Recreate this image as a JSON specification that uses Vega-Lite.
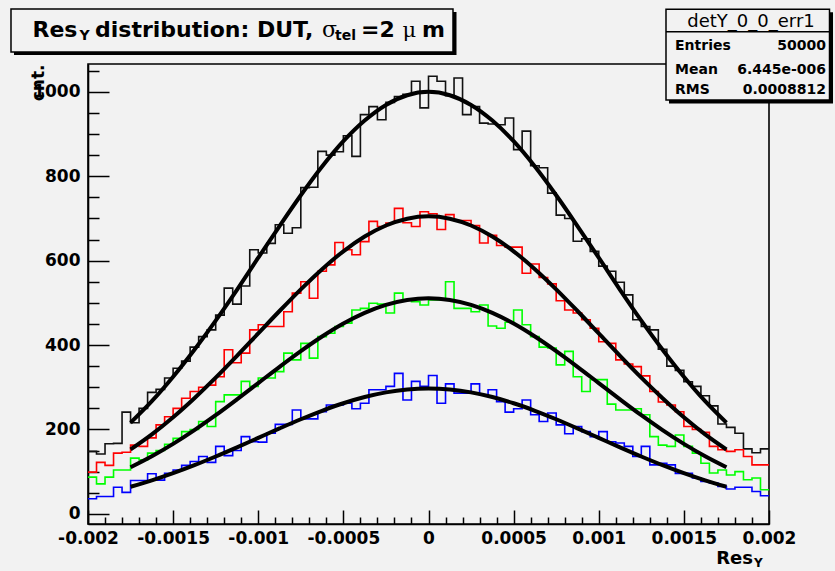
{
  "$schema": "https://vega.github.io/schema/vega-lite/v6.json",
  "width": 681,
  "height": 460,
  "autosize": "none",
  "padding": {"left": 88, "top": 64, "right": 66, "bottom": 47},
  "background": "#f2f2f2",
  "config": {"view": {"stroke": "#000000", "strokeWidth": 1.6}, "font": "DejaVu Sans"},
  "datasets": {
    "hist": [
      {"x": -0.002, "A": 148, "B": 99, "C": 87, "D": 36},
      {"x": -0.00195, "A": 142, "B": 122, "C": 71, "D": 41},
      {"x": -0.0019, "A": 166, "B": 115, "C": 87, "D": 41},
      {"x": -0.00185, "A": 167, "B": 144, "C": 104, "D": 63},
      {"x": -0.0018, "A": 241, "B": 146, "C": 104, "D": 51},
      {"x": -0.00175, "A": 216, "B": 163, "C": 132, "D": 79},
      {"x": -0.0017, "A": 250, "B": 160, "C": 128, "D": 79},
      {"x": -0.00165, "A": 288, "B": 180, "C": 144, "D": 95},
      {"x": -0.0016, "A": 295, "B": 211, "C": 150, "D": 80},
      {"x": -0.00155, "A": 322, "B": 230, "C": 165, "D": 96},
      {"x": -0.0015, "A": 345, "B": 250, "C": 179, "D": 104},
      {"x": -0.00145, "A": 362, "B": 274, "C": 195, "D": 115},
      {"x": -0.0014, "A": 395, "B": 290, "C": 200, "D": 124},
      {"x": -0.00135, "A": 420, "B": 300, "C": 219, "D": 136},
      {"x": -0.0013, "A": 436, "B": 305, "C": 207, "D": 122},
      {"x": -0.00125, "A": 471, "B": 325, "C": 266, "D": 160},
      {"x": -0.0012, "A": 535, "B": 389, "C": 282, "D": 138},
      {"x": -0.00115, "A": 497, "B": 358, "C": 282, "D": 150},
      {"x": -0.0011, "A": 540, "B": 381, "C": 314, "D": 183},
      {"x": -0.00105, "A": 626, "B": 436, "C": 302, "D": 171},
      {"x": -0.001, "A": 618, "B": 448, "C": 322, "D": 170},
      {"x": -0.00095, "A": 641, "B": 444, "C": 322, "D": 191},
      {"x": -0.0009, "A": 685, "B": 444, "C": 337, "D": 212},
      {"x": -0.00085, "A": 665, "B": 479, "C": 381, "D": 212},
      {"x": -0.0008, "A": 678, "B": 523, "C": 365, "D": 246},
      {"x": -0.00075, "A": 773, "B": 550, "C": 404, "D": 225},
      {"x": -0.0007, "A": 774, "B": 511, "C": 369, "D": 225},
      {"x": -0.00065, "A": 859, "B": 575, "C": 420, "D": 242},
      {"x": -0.0006, "A": 850, "B": 590, "C": 428, "D": 258},
      {"x": -0.00055, "A": 858, "B": 643, "C": 444, "D": 258},
      {"x": -0.0005, "A": 896, "B": 626, "C": 452, "D": 262},
      {"x": -0.00045, "A": 847, "B": 614, "C": 483, "D": 249},
      {"x": -0.0004, "A": 946, "B": 645, "C": 487, "D": 262},
      {"x": -0.00035, "A": 965, "B": 693, "C": 499, "D": 294},
      {"x": -0.0003, "A": 934, "B": 681, "C": 497, "D": 294},
      {"x": -0.00025, "A": 975, "B": 689, "C": 476, "D": 302},
      {"x": -0.0002, "A": 989, "B": 724, "C": 523, "D": 333},
      {"x": -0.00015, "A": 994, "B": 690, "C": 507, "D": 270},
      {"x": -0.0001, "A": 1025, "B": 681, "C": 503, "D": 314},
      {"x": -0.00005, "A": 962, "B": 716, "C": 495, "D": 302},
      {"x": 0, "A": 1037, "B": 711, "C": 507, "D": 328},
      {"x": 0.00005, "A": 1025, "B": 674, "C": 507, "D": 262},
      {"x": 0.0001, "A": 991, "B": 709, "C": 550, "D": 308},
      {"x": 0.00015, "A": 1033, "B": 695, "C": 487, "D": 286},
      {"x": 0.0002, "A": 946, "B": 695, "C": 487, "D": 286},
      {"x": 0.00025, "A": 965, "B": 683, "C": 479, "D": 308},
      {"x": 0.0003, "A": 926, "B": 642, "C": 495, "D": 282},
      {"x": 0.00035, "A": 924, "B": 660, "C": 445, "D": 294},
      {"x": 0.0004, "A": 922, "B": 636, "C": 440, "D": 266},
      {"x": 0.00045, "A": 938, "B": 632, "C": 454, "D": 241},
      {"x": 0.0005, "A": 863, "B": 632, "C": 483, "D": 249},
      {"x": 0.00055, "A": 907, "B": 570, "C": 448, "D": 270},
      {"x": 0.0006, "A": 825, "B": 592, "C": 420, "D": 235},
      {"x": 0.00065, "A": 820, "B": 560, "C": 395, "D": 219},
      {"x": 0.0007, "A": 760, "B": 545, "C": 393, "D": 239},
      {"x": 0.00075, "A": 708, "B": 505, "C": 353, "D": 211},
      {"x": 0.0008, "A": 700, "B": 483, "C": 385, "D": 190},
      {"x": 0.00085, "A": 646, "B": 476, "C": 325, "D": 207},
      {"x": 0.0009, "A": 652, "B": 460, "C": 290, "D": 195},
      {"x": 0.00095, "A": 622, "B": 440, "C": 318, "D": 183},
      {"x": 0.001, "A": 587, "B": 408, "C": 318, "D": 195},
      {"x": 0.00105, "A": 575, "B": 404, "C": 260, "D": 171},
      {"x": 0.0011, "A": 549, "B": 365, "C": 246, "D": 168},
      {"x": 0.00115, "A": 519, "B": 355, "C": 246, "D": 160},
      {"x": 0.0012, "A": 460, "B": 349, "C": 249, "D": 136},
      {"x": 0.00125, "A": 444, "B": 327, "C": 235, "D": 160},
      {"x": 0.0013, "A": 436, "B": 290, "C": 183, "D": 116},
      {"x": 0.00135, "A": 390, "B": 265, "C": 163, "D": 120},
      {"x": 0.0014, "A": 350, "B": 258, "C": 160, "D": 116},
      {"x": 0.00145, "A": 340, "B": 242, "C": 187, "D": 96},
      {"x": 0.0015, "A": 313, "B": 207, "C": 160, "D": 96},
      {"x": 0.00155, "A": 302, "B": 200, "C": 144, "D": 85},
      {"x": 0.0016, "A": 280, "B": 193, "C": 120, "D": 77},
      {"x": 0.00165, "A": 256, "B": 160, "C": 97, "D": 73},
      {"x": 0.0017, "A": 213, "B": 152, "C": 104, "D": 65},
      {"x": 0.00175, "A": 205, "B": 148, "C": 92, "D": 59},
      {"x": 0.0018, "A": 191, "B": 152, "C": 100, "D": 63},
      {"x": 0.00185, "A": 154, "B": 136, "C": 81, "D": 63},
      {"x": 0.0019, "A": 145, "B": 116, "C": 85, "D": 53},
      {"x": 0.00195, "A": 154, "B": 116, "C": 57, "D": 43},
      {"x": 0.002, "A": 154, "B": 116, "C": 57, "D": 43}
    ],
    "fit": [
      {"x": -0.00175, "A": 216, "B": 152.5, "C": 110.5, "D": 64.2},
      {"x": -0.001625, "A": 267, "B": 188.3, "C": 136.5, "D": 79.3},
      {"x": -0.0015, "A": 325, "B": 228.9, "C": 165.9, "D": 96.4},
      {"x": -0.001375, "A": 389, "B": 274, "C": 198.6, "D": 115.4},
      {"x": -0.00125, "A": 458, "B": 322.7, "C": 233.9, "D": 136},
      {"x": -0.001125, "A": 531, "B": 374.4, "C": 271.4, "D": 157.7},
      {"x": -0.001, "A": 607, "B": 427.6, "C": 309.9, "D": 180.1},
      {"x": -0.000875, "A": 682, "B": 480.7, "C": 348.5, "D": 202.5},
      {"x": -0.00075, "A": 755, "B": 532.1, "C": 385.7, "D": 224.2},
      {"x": -0.000625, "A": 823, "B": 579.9, "C": 420.3, "D": 244.3},
      {"x": -0.0005, "A": 883, "B": 622.2, "C": 451, "D": 262.1},
      {"x": -0.000375, "A": 932, "B": 657.1, "C": 476.3, "D": 276.8},
      {"x": -0.00025, "A": 969, "B": 683.3, "C": 495.3, "D": 287.9},
      {"x": -0.000125, "A": 992, "B": 699.5, "C": 507, "D": 294.7},
      {"x": 0, "A": 1000, "B": 705, "C": 511, "D": 297},
      {"x": 0.000125, "A": 992, "B": 699.5, "C": 507, "D": 294.7},
      {"x": 0.00025, "A": 969, "B": 683.3, "C": 495.3, "D": 287.9},
      {"x": 0.000375, "A": 932, "B": 657.1, "C": 476.3, "D": 276.8},
      {"x": 0.0005, "A": 883, "B": 622.2, "C": 451, "D": 262.1},
      {"x": 0.000625, "A": 823, "B": 579.9, "C": 420.3, "D": 244.3},
      {"x": 0.00075, "A": 755, "B": 532.1, "C": 385.7, "D": 224.2},
      {"x": 0.000875, "A": 682, "B": 480.7, "C": 348.5, "D": 202.5},
      {"x": 0.001, "A": 607, "B": 427.6, "C": 309.9, "D": 180.1},
      {"x": 0.001125, "A": 531, "B": 374.4, "C": 271.4, "D": 157.7},
      {"x": 0.00125, "A": 458, "B": 322.7, "C": 233.9, "D": 136},
      {"x": 0.001375, "A": 389, "B": 274, "C": 198.6, "D": 115.4},
      {"x": 0.0015, "A": 325, "B": 228.9, "C": 165.9, "D": 96.4},
      {"x": 0.001625, "A": 267, "B": 188.3, "C": 136.5, "D": 79.3},
      {"x": 0.00175, "A": 216, "B": 152.5, "C": 110.5, "D": 64.2}
    ]
  },
  "layer": [
    {
      "data": {"name": "hist"},
      "transform": [{"fold": ["A", "B", "C", "D"], "as": ["s", "n"]}],
      "mark": {"type": "line", "interpolate": "step-after", "strokeWidth": 1.6},
      "encoding": {
        "x": {"field": "x", "type": "quantitative", "scale": {"domain": [-0.002, 0.002], "nice": false, "zero": false},
          "axis": {"orient": "bottom", "values": [-0.002, -0.0015, -0.001, -0.0005, 0, 0.0005, 0.001, 0.0015, 0.002], "labelExpr": "'' + datum.value", "tickSize": -14, "tickWidth": 1.5, "tickColor": "#000000", "domainColor": "#000000", "domainWidth": 1.6, "grid": false, "title": null, "labelFont": "DejaVu Sans", "labelFontWeight": "bold", "labelFontSize": 17, "labelColor": "#000000", "labelPadding": 20, "labelOverlap": false, "labelFlush": false, "labelBound": false}},
        "y": {"field": "n", "type": "quantitative", "scale": {"domain": [-24, 1066], "nice": false, "zero": false},
          "axis": {"orient": "left", "values": [0, 200, 400, 600, 800, 1000], "labelExpr": "'' + datum.value", "tickSize": -21, "tickWidth": 1.5, "tickColor": "#000000", "domainColor": "#000000", "domainWidth": 1.6, "grid": false, "labelFont": "DejaVu Sans", "labelFontWeight": "bold", "labelFontSize": 17, "labelColor": "#000000", "labelPadding": 29, "labelOverlap": false, "labelFlush": false, "labelBound": false,
            "title": "cnt.", "titleFont": "DejaVu Sans", "titleFontWeight": "bold", "titleFontSize": 17, "titleColor": "#000000", "titleAngle": -90, "titleAlign": "right", "titleBaseline": "alphabetic", "titleX": -45, "titleY": 0}},
        "color": {"field": "s", "type": "nominal", "scale": {"domain": ["A", "B", "C", "D"], "range": ["#111111", "#ff0000", "#00ff00", "#0000ff"]}, "legend": null}
      }
    },
    {
      "data": {"name": "fit"},
      "transform": [{"fold": ["A", "B", "C", "D"], "as": ["s", "f"]}],
      "mark": {"type": "line", "interpolate": "monotone", "strokeWidth": 4, "color": "#000000"},
      "encoding": {
        "x": {"field": "x", "type": "quantitative", "scale": {"domain": [-0.002, 0.002], "nice": false, "zero": false},
          "axis": {"orient": "bottom", "values": [-0.0019, -0.0018, -0.0017, -0.0016, -0.0014, -0.0013, -0.0012, -0.0011, -0.0009, -0.0008, -0.0007, -0.0006, -0.0004, -0.0003, -0.0002, -0.0001, 0.0001, 0.0002, 0.0003, 0.0004, 0.0006, 0.0007, 0.0008, 0.0009, 0.0011, 0.0012, 0.0013, 0.0014, 0.0016, 0.0017, 0.0018, 0.0019], "tickSize": -7, "tickWidth": 1.5, "tickColor": "#000000", "labels": false, "domain": false, "grid": false, "title": null}},
        "y": {"field": "f", "type": "quantitative", "scale": {"domain": [-24, 1066], "nice": false, "zero": false},
          "axis": {"orient": "left", "values": [50, 100, 150, 250, 300, 350, 450, 500, 550, 650, 700, 750, 850, 900, 950, 1050], "tickSize": -11, "tickWidth": 1.5, "tickColor": "#000000", "labels": false, "domain": false, "grid": false, "title": null}},
        "detail": {"field": "s", "type": "nominal"}
      }
    },
    {
      "data": {"values": [{}]},
      "mark": {"type": "rect", "fill": "#000000"},
      "encoding": {
        "x": {"datum": -0.0024347, "type": "quantitative", "scale": {"domain": [-0.002, 0.002], "nice": false, "zero": false}, "axis": null},
        "x2": {"datum": 0.0001645},
        "y": {"datum": 1189.3, "type": "quantitative", "scale": {"domain": [-24, 1066], "nice": false, "zero": false}, "axis": null},
        "y2": {"datum": 1087.4}
      }
    },
    {
      "data": {"values": [{}]},
      "mark": {"type": "rect", "fill": "#f2f2f2", "stroke": "#000000", "strokeWidth": 1.5},
      "encoding": {
        "x": {"datum": -0.0024523, "type": "quantitative", "scale": {"domain": [-0.002, 0.002], "nice": false, "zero": false}, "axis": null},
        "x2": {"datum": 0.0001439},
        "y": {"datum": 1196.4, "type": "quantitative", "scale": {"domain": [-24, 1066], "nice": false, "zero": false}, "axis": null},
        "y2": {"datum": 1094.5}
      }
    },
    {
      "data": {"values": [{}]},
      "mark": {"type": "rect", "fill": "#000000"},
      "encoding": {
        "x": {"datum": 0.0014126, "type": "quantitative", "scale": {"domain": [-0.002, 0.002], "nice": false, "zero": false}, "axis": null},
        "x2": {"datum": 0.002376},
        "y": {"datum": 1188.6, "type": "quantitative", "scale": {"domain": [-24, 1066], "nice": false, "zero": false}, "axis": null},
        "y2": {"datum": 972.5}
      }
    },
    {
      "data": {"values": [{}]},
      "mark": {"type": "rect", "fill": "#f2f2f2", "stroke": "#000000", "strokeWidth": 1.5},
      "encoding": {
        "x": {"datum": 0.001395, "type": "quantitative", "scale": {"domain": [-0.002, 0.002], "nice": false, "zero": false}, "axis": null},
        "x2": {"datum": 0.0023554},
        "y": {"datum": 1195.7, "type": "quantitative", "scale": {"domain": [-24, 1066], "nice": false, "zero": false}, "axis": null},
        "y2": {"datum": 980.8}
      }
    },
    {
      "data": {"values": [{}]},
      "mark": {"type": "rule", "color": "#000000", "strokeWidth": 1.5},
      "encoding": {
        "x": {"datum": 0.001395, "type": "quantitative", "scale": {"domain": [-0.002, 0.002], "nice": false, "zero": false}, "axis": null},
        "x2": {"datum": 0.0023554},
        "y": {"datum": 1142.6, "type": "quantitative", "scale": {"domain": [-24, 1066], "nice": false, "zero": false}, "axis": null}
      }
    },
    {"data": {"values": [{}]}, "mark": {"type": "text", "text": "Res", "font": "DejaVu Sans", "fontWeight": "bold", "fontSize": 22, "align": "right", "baseline": "alphabetic", "color": "#000000"},
      "encoding": {"x": {"datum": -0.002062, "type": "quantitative", "axis": null}, "y": {"datum": 1129.3, "type": "quantitative", "axis": null}}},
    {"data": {"values": [{}]}, "mark": {"type": "text", "text": "Y", "font": "DejaVu Sans", "fontWeight": "bold", "fontSize": 14, "align": "left", "baseline": "alphabetic", "color": "#000000"},
      "encoding": {"x": {"datum": -0.00205, "type": "quantitative", "axis": null}, "y": {"datum": 1121.7, "type": "quantitative", "axis": null}}},
    {"data": {"values": [{}]}, "mark": {"type": "text", "text": "distribution: DUT,", "font": "DejaVu Sans", "fontWeight": "bold", "fontSize": 22, "align": "left", "baseline": "alphabetic", "color": "#000000"},
      "encoding": {"x": {"datum": -0.0019589, "type": "quantitative", "axis": null}, "y": {"datum": 1129.3, "type": "quantitative", "axis": null}}},
    {"data": {"values": [{}]}, "mark": {"type": "text", "text": "σ", "font": "DejaVu Serif", "fontWeight": "normal", "fontSize": 22, "align": "left", "baseline": "alphabetic", "color": "#000000"},
      "encoding": {"x": {"datum": -0.0006256, "type": "quantitative", "axis": null}, "y": {"datum": 1129.3, "type": "quantitative", "axis": null}}},
    {"data": {"values": [{}]}, "mark": {"type": "text", "text": "tel", "font": "DejaVu Sans", "fontWeight": "bold", "fontSize": 14, "align": "left", "baseline": "alphabetic", "color": "#000000"},
      "encoding": {"x": {"datum": -0.0005492, "type": "quantitative", "axis": null}, "y": {"datum": 1122, "type": "quantitative", "axis": null}}},
    {"data": {"values": [{}]}, "mark": {"type": "text", "text": "=2", "font": "DejaVu Sans", "fontWeight": "bold", "fontSize": 22, "align": "left", "baseline": "alphabetic", "color": "#000000"},
      "encoding": {"x": {"datum": -0.0003965, "type": "quantitative", "axis": null}, "y": {"datum": 1129.3, "type": "quantitative", "axis": null}}},
    {"data": {"values": [{}]}, "mark": {"type": "text", "text": "μ", "font": "DejaVu Serif", "fontWeight": "normal", "fontSize": 21, "align": "left", "baseline": "alphabetic", "color": "#000000"},
      "encoding": {"x": {"datum": -0.0001527, "type": "quantitative", "axis": null}, "y": {"datum": 1129.3, "type": "quantitative", "axis": null}}},
    {"data": {"values": [{}]}, "mark": {"type": "text", "text": "m", "font": "DejaVu Sans", "fontWeight": "bold", "fontSize": 22, "align": "left", "baseline": "alphabetic", "color": "#000000"},
      "encoding": {"x": {"datum": -0.0000381, "type": "quantitative", "axis": null}, "y": {"datum": 1129.3, "type": "quantitative", "axis": null}}},
    {"data": {"values": [{}]}, "mark": {"type": "text", "text": "detY_0_0_err1", "font": "DejaVu Sans", "fontWeight": "normal", "fontSize": 18, "align": "center", "baseline": "alphabetic", "color": "#000000"},
      "encoding": {"x": {"datum": 0.0018943, "type": "quantitative", "axis": null}, "y": {"datum": 1154.4, "type": "quantitative", "axis": null}}},
    {"data": {"values": [{}]}, "mark": {"type": "text", "text": "Entries", "font": "DejaVu Sans", "fontWeight": "bold", "fontSize": 14, "align": "left", "baseline": "alphabetic", "color": "#000000"},
      "encoding": {"x": {"datum": 0.0014479, "type": "quantitative", "axis": null}, "y": {"datum": 1099.2, "type": "quantitative", "axis": null}}},
    {"data": {"values": [{}]}, "mark": {"type": "text", "text": "Mean", "font": "DejaVu Sans", "fontWeight": "bold", "fontSize": 14, "align": "left", "baseline": "alphabetic", "color": "#000000"},
      "encoding": {"x": {"datum": 0.0014479, "type": "quantitative", "axis": null}, "y": {"datum": 1042.4, "type": "quantitative", "axis": null}}},
    {"data": {"values": [{}]}, "mark": {"type": "text", "text": "RMS", "font": "DejaVu Sans", "fontWeight": "bold", "fontSize": 14, "align": "left", "baseline": "alphabetic", "color": "#000000"},
      "encoding": {"x": {"datum": 0.0014479, "type": "quantitative", "axis": null}, "y": {"datum": 994.3, "type": "quantitative", "axis": null}}},
    {"data": {"values": [{}]}, "mark": {"type": "text", "text": "50000", "font": "DejaVu Sans", "fontWeight": "bold", "fontSize": 14, "align": "right", "baseline": "alphabetic", "color": "#000000"},
      "encoding": {"x": {"datum": 0.0023348, "type": "quantitative", "axis": null}, "y": {"datum": 1099.2, "type": "quantitative", "axis": null}}},
    {"data": {"values": [{}]}, "mark": {"type": "text", "text": "6.445e-006", "font": "DejaVu Sans", "fontWeight": "bold", "fontSize": 14, "align": "right", "baseline": "alphabetic", "color": "#000000"},
      "encoding": {"x": {"datum": 0.0023348, "type": "quantitative", "axis": null}, "y": {"datum": 1042.4, "type": "quantitative", "axis": null}}},
    {"data": {"values": [{}]}, "mark": {"type": "text", "text": "0.0008812", "font": "DejaVu Sans", "fontWeight": "bold", "fontSize": 14, "align": "right", "baseline": "alphabetic", "color": "#000000"},
      "encoding": {"x": {"datum": 0.0023348, "type": "quantitative", "axis": null}, "y": {"datum": 994.3, "type": "quantitative", "axis": null}}},
    {"data": {"values": [{}]}, "mark": {"type": "text", "text": "Res", "font": "DejaVu Sans", "fontWeight": "bold", "fontSize": 18, "align": "right", "baseline": "alphabetic", "color": "#000000"},
      "encoding": {"x": {"datum": 0.001906, "type": "quantitative", "axis": null}, "y": {"datum": -118.7, "type": "quantitative", "axis": null}}},
    {"data": {"values": [{}]}, "mark": {"type": "text", "text": "Y", "font": "DejaVu Sans", "fontWeight": "bold", "fontSize": 12, "align": "left", "baseline": "alphabetic", "color": "#000000"},
      "encoding": {"x": {"datum": 0.0019119, "type": "quantitative", "axis": null}, "y": {"datum": -125.8, "type": "quantitative", "axis": null}}}
  ],
  "resolve": {"axis": {"x": "independent", "y": "independent"}}
}
